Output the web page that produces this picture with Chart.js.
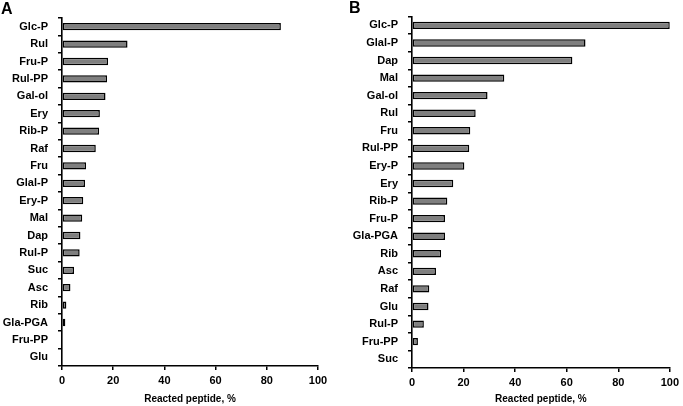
<!doctype html>
<html lang="en">

<head>
    <meta charset="utf-8">
    <title>Reacted peptide</title>
    <script src="https://cdn.jsdelivr.net/npm/chart.js"></script>
    <style>
        body { margin: 0; background: #fff; width: 683px; height: 406px; position: relative; overflow: hidden; }
        .panel { position: absolute; top: 0; height: 406px; }
        .letter { position: absolute; font: bold 16px "Liberation Sans", Arial, sans-serif; color: #000; }
    </style>
</head>

<body>
    <div class="panel" style="left:0;width:341px"><canvas id="chartA"></canvas></div>
    <div class="panel" style="left:341px;width:342px"><canvas id="chartB"></canvas></div>
    <div class="letter" style="left:1px;top:0px">A</div>
    <div class="letter" style="left:349px;top:-1px">B</div>

    <script>
        // panel A
        const labelsA = ["Glc-P", "Rul", "Fru-P", "Rul-PP", "Gal-ol", "Ery", "Rib-P", "Raf", "Fru", "Glal-P",
            "Ery-P", "Mal", "Dap", "Rul-P", "Suc", "Asc", "Rib", "Gla-PGA", "Fru-PP", "Glu"];
        const valuesA = [85.5, 25.6, 18.0, 17.6, 17.0, 14.8, 14.5, 13.2, 9.4, 9.0,
            8.3, 7.9, 7.2, 6.9, 4.7, 3.3, 1.7, 1.3, 0, 0];

        // panel B
        const labelsB = ["Glc-P", "Glal-P", "Dap", "Mal", "Gal-ol", "Rul", "Fru", "Rul-PP", "Ery-P", "Ery",
            "Rib-P", "Fru-P", "Gla-PGA", "Rib", "Asc", "Raf", "Glu", "Rul-P", "Fru-PP", "Suc"];
        const valuesB = [100, 67.3, 62.2, 35.8, 29.3, 24.7, 22.6, 22.2, 20.3, 16.0,
            13.7, 12.8, 12.8, 11.3, 9.3, 6.7, 6.4, 4.6, 2.3, 0];

        const xTicks = [0, 20, 40, 60, 80, 100];
        const xTitle = "Reacted peptide, %";

        const fontFam = "'Liberation Sans', Arial, sans-serif";

        function makeChart(id, labels, values, yWidth, padTop, padRight, xHeight) {
            return new Chart(document.getElementById(id), {
                type: 'bar',
                data: {
                    labels: labels,
                    datasets: [{
                        data: values,
                        backgroundColor: "#7f7f7f",
                        borderColor: "#000000",
                        borderWidth: 1.5,
                        borderSkipped: false,
                        barPercentage: 0.42,
                        categoryPercentage: 1
                    }]
                },
                options: {
                    indexAxis: 'y',
                    responsive: true,
                    maintainAspectRatio: false,
                    animation: false,
                    events: [],
                    layout: { padding: { top: padTop, right: padRight, left: 0, bottom: 0 } },
                    plugins: { legend: { display: false }, tooltip: { enabled: false } },
                    scales: {
                        y: {
                            offset: true,
                            border: { display: true, color: "#000", width: 1.6 },
                            grid: { display: true, offset: true, drawOnChartArea: false, drawTicks: true, tickLength: 4, color: "#000", lineWidth: 1.5 },
                            ticks: { color: "#000", padding: 10, font: { family: fontFam, size: 11, weight: 'bold' } },
                            afterFit: (s) => { s.width = yWidth; }
                        },
                        x: {
                            min: 0,
                            max: 100,
                            afterBuildTicks: (s) => { s.ticks = xTicks.map(v => ({ value: v })); },
                            border: { display: true, color: "#000", width: 1.6 },
                            grid: { display: true, drawOnChartArea: false, tickLength: 4, color: "#000", lineWidth: 1.5 },
                            ticks: { color: "#000", padding: 4, font: { family: fontFam, size: 11, weight: 'bold' } },
                            title: { display: true, text: xTitle, color: "#000", padding: { top: 4, bottom: 1 }, font: { family: fontFam, size: 10, weight: 'bold' } },
                            afterFit: (s) => { s.height = xHeight; }
                        }
                    }
                }
            });
        }

        makeChart('chartA', labelsA, valuesA, 62, 18, 23, 40);
        makeChart('chartB', labelsB, valuesB, 71, 16, 10, 38);
    </script>
</body>

</html>
